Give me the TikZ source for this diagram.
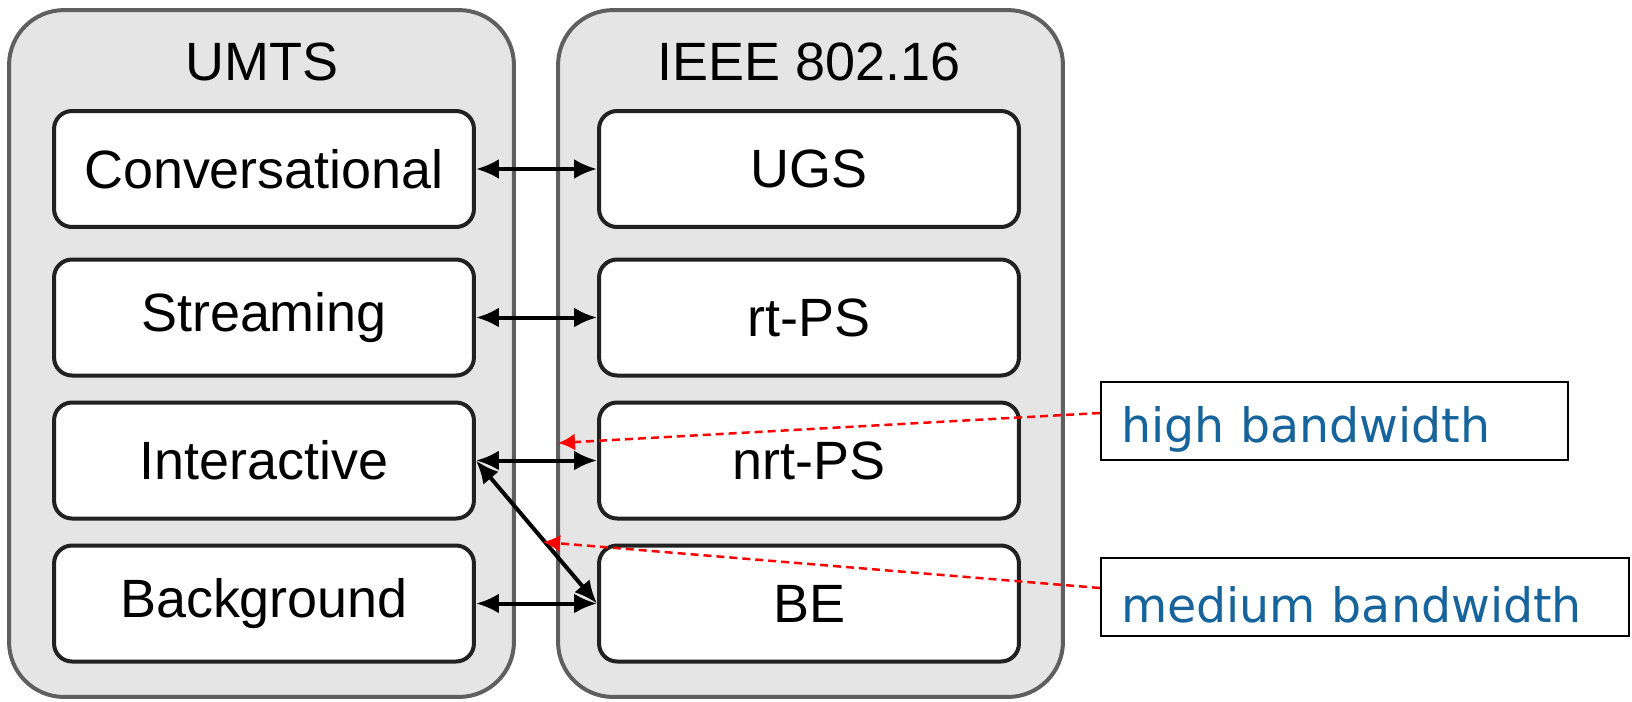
\documentclass[tikz,border=0pt]{standalone}
\usepackage{fontspec}
\setmainfont{Liberation Sans}
\newfontfamily\notefont{DejaVu Sans}
\usepackage{xcolor}
\usepackage{tikz}
\usetikzlibrary{arrows.meta, positioning}

\definecolor{panelgray}{RGB}{229,229,229}
\definecolor{panelline}{RGB}{95,95,95}
\definecolor{notetext}{RGB}{22,100,155}

\begin{document}
\begin{tikzpicture}[
    x=0.02cm, y=-0.02cm,
    panel/.style={rectangle, draw=panelline, line width=0.08cm, fill=panelgray, rounded corners=1.1cm, minimum width=10.1cm, minimum height=13.74cm},
    title/.style={font=\fontsize{30.7}{36}\selectfont},
    classbox/.style={rectangle, draw=black!87, line width=0.08cm, fill=white, rounded corners=0.36cm, minimum width=8.4cm, minimum height=2.32cm, font=\fontsize{30.7}{36}\selectfont},
    notebox/.style={rectangle, draw=black, line width=0.04cm, fill=white, minimum height=1.56cm, inner xsep=0.4cm, inner ysep=0pt, text height=1.04cm, align=left, text=notetext, font=\notefont\fontsize{27}{32}\selectfont},
    map/.style={{Latex[length=0.46cm, width=0.4cm]}-{Latex[length=0.46cm, width=0.4cm]}, line width=0.08cm},
    hint/.style={-{Latex[length=0.34cm, width=0.34cm]}, red, line width=0.05cm, dash pattern=on 0.16cm off 0.1cm}
]
\useasboundingbox (0,0) rectangle (1632,701);
\node (umts) at (261.5,353.5) [panel] {};
\node (ieee) at (810.5,353.5) [panel] {};
\node (umtsT) at (262,62) [title] {UMTS};
\node (ieeeT) at (809,62) [title] {IEEE 802.16};
% UMTS classes
\node (conv) at (264,169) [classbox] {Conversational};
\node (strm) at (264,317.5) [classbox] {Streaming};
\node (intr) at (264,460.5) [classbox] {Interactive};
\node (back) at (264,603.5) [classbox] {Background};
% 802.16 classes
\node (ugs) at (809,169) [classbox] {UGS};
\node (rtps) at (809,317.5) [classbox] {rt-PS};
\node (nrtps) at (809,460.5) [classbox] {nrt-PS};
\node (be) at (809,603.5) [classbox] {BE};
\draw[map] (conv) -- (ugs);
\draw[map] (strm) -- (rtps);
\draw[map] (intr) -- (nrtps);
\draw[map] (back) -- (be);
\draw[map] (intr.east) -- (be.west);
% notes
\node (high) at (1334.5,421) [notebox, text width=8.54cm] {high bandwidth};
\node (med) at (1365,597) [notebox, text width=9.76cm] {medium bandwidth};
\coordinate (highTip) at (558,443);
\coordinate (medTip) at (543,542);
\draw[hint] ([yshift=0.16cm]high.west) -- (highTip);
\draw[hint] ([yshift=0.18cm]med.west) -- (medTip);
\end{tikzpicture}
\end{document}
